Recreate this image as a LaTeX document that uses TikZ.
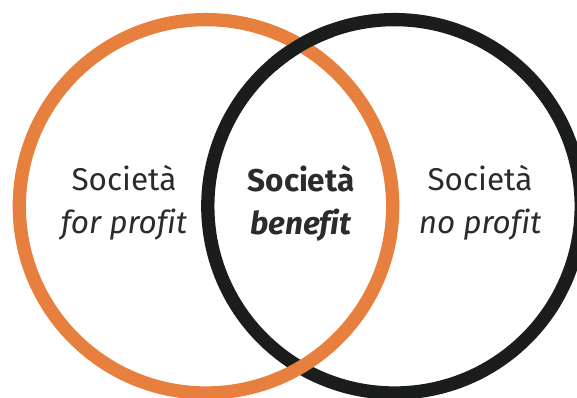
\documentclass[tikz,border=0pt]{standalone}
\usepackage{fontspec}
\setmainfont{Fira Sans}[Ligatures=CommonOff]
\definecolor{vennorange}{HTML}{E77F3E}
\definecolor{vennblack}{HTML}{1B1D1C}
\definecolor{venntext}{HTML}{2B2B2B}

\begin{document}
\begin{tikzpicture}[x=1pt, y=-1pt,
    ring/.style ={circle, draw, line width=13.3pt, inner sep = 0pt, outer sep = 0pt, minimum size=373.4pt},
    sector/.style ={align=center, text=venntext, font=\fontsize{31.5}{43}\selectfont}]
   \useasboundingbox (0,0) rectangle (577,397);
   \node[ring, draw=vennblack]  (nonprofit) at (394.5,206.3) {};
   \node[ring, draw=vennorange] (profit)    at (206,206.3)   {};
   % black over orange at the top crossing
   \draw[vennblack, line width=13.3pt] (nonprofit.110) arc[start angle=110, end angle=131, radius=186.7pt];

   \node[sector] (forprofit) at (124,203) {Società\\\textit{for profit}};
   \node[sector, font=\fontsize{31.5}{43}\selectfont\bfseries] (benefit) at (301,203) {Società\\\textit{benefit}};
   \node[sector] (noprofit) at (480,203) {Società\\\textit{no profit}};
 \end{tikzpicture}
\end{document}
